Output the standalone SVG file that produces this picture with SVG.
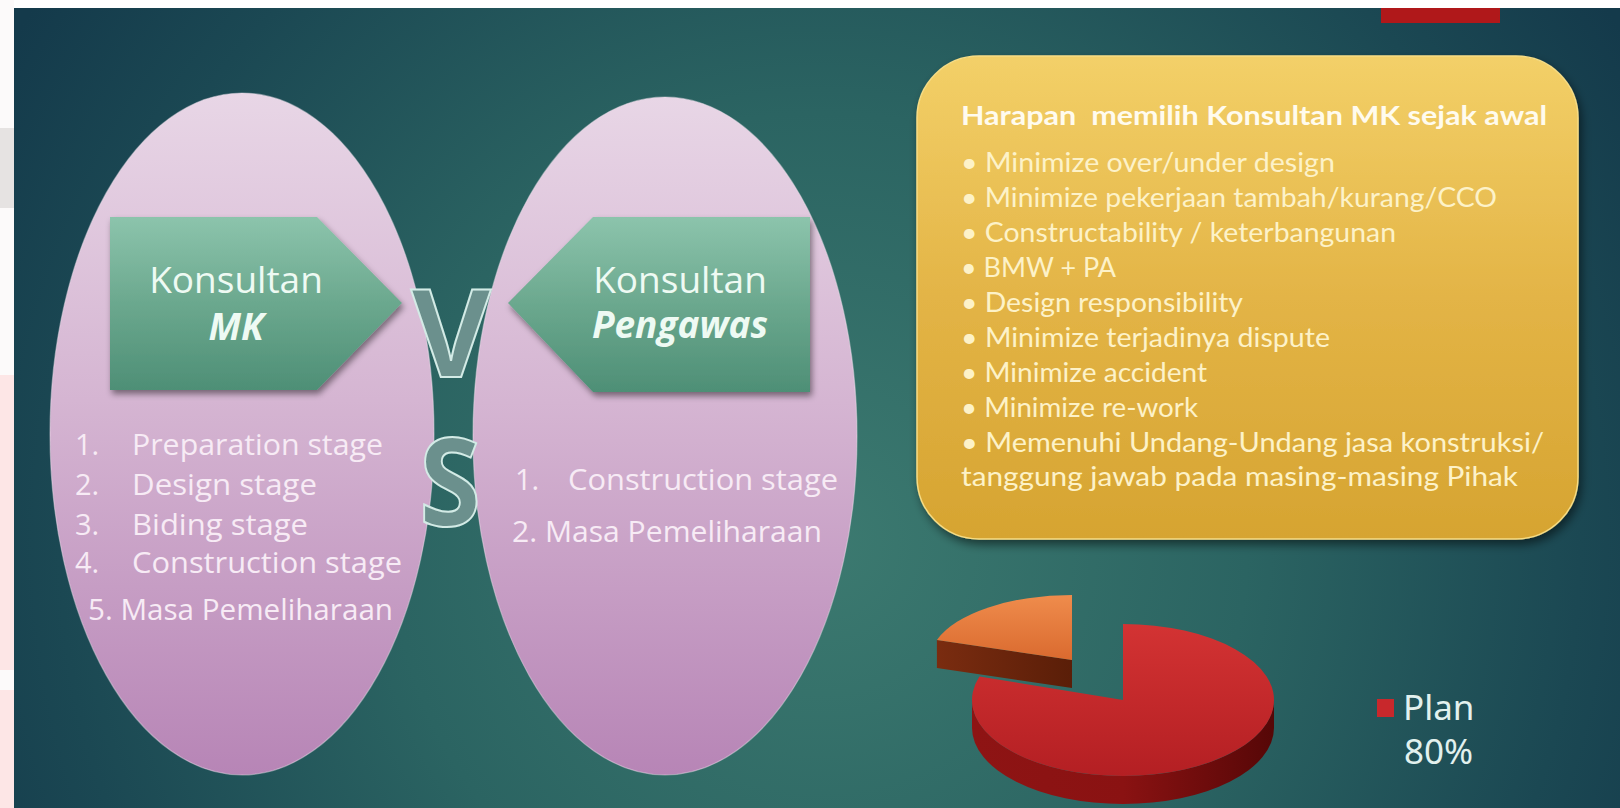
<svg xmlns="http://www.w3.org/2000/svg" width="1620" height="808" viewBox="0 0 1620 808">
<defs>
  <radialGradient id="bgGrad" gradientUnits="userSpaceOnUse" cx="820" cy="540" r="950">
    <stop offset="0" stop-color="#3c7a70"/>
    <stop offset="0.45" stop-color="#2b6462"/>
    <stop offset="0.8" stop-color="#1b4853"/>
    <stop offset="1" stop-color="#143a4b"/>
  </radialGradient>
  <linearGradient id="ellGrad" x1="0" y1="0" x2="0" y2="1">
    <stop offset="0" stop-color="#e8d6e6"/>
    <stop offset="0.45" stop-color="#d5b5d2"/>
    <stop offset="1" stop-color="#b785b6"/>
  </linearGradient>
  <linearGradient id="arrowGrad" x1="0" y1="0" x2="0" y2="1">
    <stop offset="0" stop-color="#8cc4ac"/>
    <stop offset="0.5" stop-color="#6ba88e"/>
    <stop offset="1" stop-color="#4e8f76"/>
  </linearGradient>
  <linearGradient id="boxGrad" x1="0" y1="0" x2="0" y2="1">
    <stop offset="0" stop-color="#f3d068"/>
    <stop offset="0.5" stop-color="#e3b446"/>
    <stop offset="1" stop-color="#d6a431"/>
  </linearGradient>
  <linearGradient id="redTop" x1="0" y1="0" x2="0" y2="1">
    <stop offset="0" stop-color="#d33333"/>
    <stop offset="1" stop-color="#b41f23"/>
  </linearGradient>
  <linearGradient id="redSide" x1="0" y1="0" x2="1" y2="0">
    <stop offset="0" stop-color="#8e1414"/>
    <stop offset="0.5" stop-color="#8a1212"/>
    <stop offset="1" stop-color="#560707"/>
  </linearGradient>
  <linearGradient id="orTop" x1="0" y1="0" x2="0" y2="1">
    <stop offset="0" stop-color="#ef8c4c"/>
    <stop offset="1" stop-color="#da6a2f"/>
  </linearGradient>
  <linearGradient id="orSide" x1="0" y1="0" x2="1" y2="0">
    <stop offset="0" stop-color="#7a2c10"/>
    <stop offset="1" stop-color="#5a1e08"/>
  </linearGradient>
  <filter id="shadow" x="-10%" y="-10%" width="120%" height="130%">
    <feDropShadow dx="2" dy="4" stdDeviation="3" flood-color="#000" flood-opacity="0.45"/>
  </filter>
  <filter id="boxShadow" x="-10%" y="-10%" width="120%" height="130%">
    <feDropShadow dx="3" dy="5" stdDeviation="5" flood-color="#000" flood-opacity="0.5"/>
  </filter>
  <style>
    .ell { fill: url(#ellGrad); stroke: #efe2ee; stroke-opacity: 0.45; stroke-width: 1.2; }
    .arrow { fill: url(#arrowGrad); filter: url(#shadow); }
    .arrowTxt { font-family: "Open Sans", "Noto Sans", sans-serif; fill: #eefaf3; font-size: 37px; text-anchor: middle; }
    .arrowBold { font-weight: 700; font-style: italic; }
    .list { font-family: "Open Sans", "Noto Sans", sans-serif; fill: #f7ebf5; font-size: 29px; }
    .vs { font-family: "Open Sans", "Noto Sans", sans-serif; font-weight: 700; font-size: 122px; fill: #6b908d; stroke: #d3ebe6; stroke-width: 2; text-anchor: middle; }
    .title { font-family: "Lato", "Open Sans", sans-serif; font-weight: 700; font-size: 26px; fill: #fffbee; }
    .bul { font-family: "Lato", "Open Sans", sans-serif; font-size: 27px; fill: #fdf2c8; }
    .legend { font-family: "Noto Sans", "Open Sans", sans-serif; font-size: 35px; fill: #e2f1ee; }
  </style>
</defs>

<g id="background">
  <rect x="0" y="0" width="1620" height="808" fill="url(#bgGrad)"/>
  <rect x="0" y="0" width="1620" height="8" fill="#ffffff"/>
  <rect x="0" y="0" width="14" height="808" fill="#fcfafa"/>
  <rect x="0" y="128" width="14" height="80" fill="#e6e3e2"/>
  <rect x="0" y="375" width="14" height="295" fill="#fde6e6"/>
  <rect x="0" y="690" width="14" height="118" fill="#fde6e6"/>
  <rect x="1381" y="8" width="119" height="15" fill="#b0181a"/>
</g>

<g id="connectors"></g>

<g id="node-mk-ellipse">
  <ellipse class="ell" cx="242" cy="434" rx="192" ry="341"/>
</g>
<g id="node-pengawas-ellipse">
  <ellipse class="ell" cx="665" cy="436" rx="192" ry="339"/>
</g>

<g id="node-mk-arrow">
  <polygon class="arrow" points="110,217 317,217 402,303 317,390 110,390"/>
  <text class="arrowTxt" x="236" y="293">Konsultan</text>
  <text class="arrowTxt arrowBold" x="236" y="340">MK</text>
</g>

<g id="node-pengawas-arrow">
  <polygon class="arrow" points="508,303 593,217 810,217 810,392 593,392"/>
  <text class="arrowTxt" x="680" y="293">Konsultan</text>
  <text class="arrowTxt arrowBold" x="680" y="338">Pengawas</text>
</g>

<g id="node-mk-list">
  <text class="list" x="75" y="455">1.</text>
  <text class="list" x="132" y="455" textLength="251" lengthAdjust="spacingAndGlyphs">Preparation stage</text>
  <text class="list" x="75" y="495">2.</text>
  <text class="list" x="132" y="495" textLength="185" lengthAdjust="spacingAndGlyphs">Design stage</text>
  <text class="list" x="75" y="535">3.</text>
  <text class="list" x="132" y="535" textLength="176" lengthAdjust="spacingAndGlyphs">Biding stage</text>
  <text class="list" x="75" y="573">4.</text>
  <text class="list" x="132" y="573" textLength="270" lengthAdjust="spacingAndGlyphs">Construction stage</text>
  <text class="list" x="88" y="620" textLength="305" lengthAdjust="spacingAndGlyphs">5. Masa Pemeliharaan</text>
</g>

<g id="node-pengawas-list">
  <text class="list" x="515" y="490">1.</text>
  <text class="list" x="568" y="490" textLength="270" lengthAdjust="spacingAndGlyphs">Construction stage</text>
  <text class="list" x="512" y="542" textLength="310" lengthAdjust="spacingAndGlyphs">2. Masa Pemeliharaan</text>
</g>

<g id="node-vs">
  <text class="vs" x="451" y="377" textLength="80" lengthAdjust="spacingAndGlyphs">V</text>
  <text class="vs" x="450" y="526" textLength="62" lengthAdjust="spacingAndGlyphs">S</text>
</g>

<g id="node-harapan">
  <rect x="917" y="56" width="661" height="483" rx="62" ry="62" fill="url(#boxGrad)" stroke="#f7dc84" stroke-width="1.5" filter="url(#boxShadow)"/>
  <text class="title" x="961" y="125" textLength="586" lengthAdjust="spacingAndGlyphs" xml:space="preserve">Harapan  memilih Konsultan MK sejak awal</text>
  <text class="bul" x="961" y="172" textLength="374" lengthAdjust="spacingAndGlyphs">• Minimize over/under design</text>
  <text class="bul" x="961" y="207" textLength="536" lengthAdjust="spacingAndGlyphs">• Minimize pekerjaan tambah/kurang/CCO</text>
  <text class="bul" x="961" y="242" textLength="435" lengthAdjust="spacingAndGlyphs">• Constructability / keterbangunan</text>
  <text class="bul" x="961" y="277" textLength="155" lengthAdjust="spacingAndGlyphs">• BMW + PA</text>
  <text class="bul" x="961" y="312" textLength="282" lengthAdjust="spacingAndGlyphs">• Design responsibility</text>
  <text class="bul" x="961" y="347" textLength="369" lengthAdjust="spacingAndGlyphs">• Minimize terjadinya dispute</text>
  <text class="bul" x="961" y="382" textLength="246" lengthAdjust="spacingAndGlyphs">• Minimize accident</text>
  <text class="bul" x="961" y="417" textLength="237" lengthAdjust="spacingAndGlyphs">• Minimize re-work</text>
  <text class="bul" x="961" y="452" textLength="583" lengthAdjust="spacingAndGlyphs">• Memenuhi Undang-Undang jasa konstruksi/</text>
  <text class="bul" x="961" y="486" textLength="557" lengthAdjust="spacingAndGlyphs">tanggung jawab pada masing-masing Pihak</text>
</g>

<g id="node-pie">
  <path d="M1072,660 L936.9,639.9 L936.9,667.9 L1072,688 Z" fill="url(#orSide)"/>
  <path d="M1072,660 L936.9,639.9 A142,65 0 0 1 1072,595 Z" fill="url(#orTop)"/>
  <path d="M1274,700 A151,76 0 0 1 972,700 L972,728 A151,76 0 0 0 1274,728 Z" fill="url(#redSide)"/>
  <path d="M1123,700 L1123,624 A151,76 0 1 1 979.4,676.5 Z" fill="url(#redTop)"/>
</g>

<g id="node-legend">
  <rect x="1377" y="699" width="17" height="18" fill="#c8282c"/>
  <text class="legend" x="1403" y="720">Plan</text>
  <text class="legend" x="1404" y="764">80%</text>
</g>
</svg>
